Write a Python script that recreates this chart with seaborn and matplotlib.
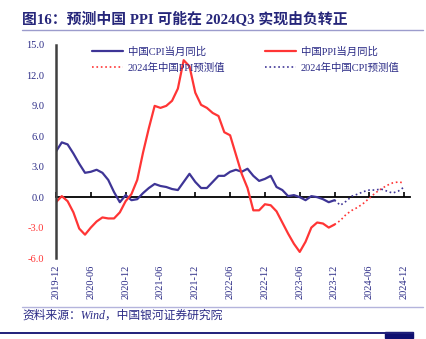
import numpy as np
import pandas as pd
import matplotlib
matplotlib.use("Agg")
import matplotlib.pyplot as plt
from matplotlib.lines import Line2D
from matplotlib.patches import Rectangle
import seaborn as sns

# ---------------- data ----------------
# monthly, 2019-12 .. 2023-12 (actual)
cpi_actual = [4.5, 5.4, 5.2, 4.3, 3.3, 2.4, 2.5, 2.7, 2.4, 1.7, 0.5, -0.5, 0.2,
              -0.3, -0.2, 0.4, 0.9, 1.3, 1.1, 1.0, 0.8, 0.7, 1.5, 2.3, 1.5,
              0.9, 0.9, 1.5, 2.1, 2.1, 2.5, 2.7, 2.5, 2.8, 2.1, 1.6, 1.8,
              2.1, 1.0, 0.7, 0.1, 0.2, 0.0, -0.3, 0.1, 0.0, -0.2, -0.5, -0.3]
ppi_actual = [-0.5, 0.1, -0.4, -1.5, -3.1, -3.7, -3.0, -2.4, -2.0, -2.1, -2.1, -1.5, -0.4,
              0.3, 1.7, 4.4, 6.8, 9.0, 8.8, 9.0, 9.5, 10.7, 13.5, 12.9, 10.3,
              9.1, 8.8, 8.3, 8.0, 6.4, 6.1, 4.2, 2.3, 0.9, -1.3, -1.3, -0.7,
              -0.8, -1.4, -2.5, -3.6, -4.6, -5.4, -4.4, -3.0, -2.5, -2.6, -3.0, -2.7]
# monthly, 2023-12 .. 2024-12 (forecast)
cpi_forecast = [-0.3, -0.8, -0.4, 0.1, 0.3, 0.55, 0.7, 0.7, 0.8, 0.6, 0.4, 0.6, 1.0]
ppi_forecast = [-2.7, -2.3, -1.7, -1.3, -1.0, -0.6, -0.1, 0.4, 0.8, 1.15, 1.4, 1.5, 1.4]

tick_labels = ["2019-12", "2020-06", "2020-12", "2021-06", "2021-12", "2022-06",
               "2022-12", "2023-06", "2023-12", "2024-06", "2024-12"]
series_names = ["中国CPI当月同比", "中国PPI当月同比", "2024年中国PPI预测值", "2024年中国CPI预测值"]
title = "图16：预测中国 PPI 可能在 2024Q3 实现由负转正"
source = "资料来源：Wind，中国银河证券研究院"

# ---------------- style ----------------
sns.set_style("white")
FONTS = ["Liberation Serif", "Noto Sans CJK SC", "DejaVu Sans"]
plt.rcParams["font.family"] = FONTS

BLUE_TXT = "#2b2b86"
CPI_C = "#3e3596"
PPI_C = "#ff3535"

W, H = 427, 339
fig = plt.figure(figsize=(W / 100, H / 100), dpi=100)
ax = fig.add_axes([56 / W, 1 - 258 / H, (410 - 56) / W, (258 - 45) / H])

n_act = len(cpi_actual)
x_act = np.arange(n_act)
x_fc = np.arange(n_act - 1, n_act - 1 + len(cpi_forecast))

df_act = pd.DataFrame({"x": x_act, "cpi": cpi_actual, "ppi": ppi_actual})
df_fc = pd.DataFrame({"x": x_fc, "cpi": cpi_forecast, "ppi": ppi_forecast})

sns.lineplot(data=df_act, x="x", y="cpi", ax=ax, color=CPI_C, lw=1.6, label=series_names[0])
sns.lineplot(data=df_act, x="x", y="ppi", ax=ax, color=PPI_C, lw=1.6, label=series_names[1])
sns.lineplot(data=df_fc, x="x", y="ppi", ax=ax, color=PPI_C, lw=1.2, ls=":", label=series_names[2])
sns.lineplot(data=df_fc, x="x", y="cpi", ax=ax, color=CPI_C, lw=1.2, ls=":", label=series_names[3])

ax.set_xlim(0, 61)
ax.set_ylim(-6, 15)
ax.set_xlabel("")
ax.set_ylabel("")

# y axis
yt = np.arange(-6, 16, 3)
ax.set_yticks(yt)
ax.set_yticklabels([f"{v:.1f}" for v in yt], fontsize=7.5)
for lab, v in zip(ax.get_yticklabels(), yt):
    lab.set_color(PPI_C if v < 0 else BLUE_TXT)
ax.tick_params(axis="y", direction="in", length=3, width=1.2, color="#404040", pad=8.5)

# x axis labels at bottom
xt = np.arange(0, 61, 6)
ax.set_xticks(xt)
ax.set_xticklabels(tick_labels, rotation=90, fontsize=7.5, color=BLUE_TXT)
ax.tick_params(axis="x", length=0, pad=5)

for s in ["top", "right", "bottom"]:
    ax.spines[s].set_visible(False)
ax.spines["left"].set_color("#404040")
ax.spines["left"].set_linewidth(1.8)

# zero line with upward ticks
sec = ax.secondary_xaxis(6 / 21)
sec.set_xticks(xt)
sec.tick_params(direction="in", length=3.5, width=1.2, color="black", labelbottom=False)
sec.spines["bottom"].set_color("black")
sec.spines["bottom"].set_linewidth(1.3)

# legend
h, l = ax.get_legend_handles_labels()
order = [0, 2, 1, 3]
leg = ax.legend([h[i] for i in order], [l[i] for i in order], ncol=2, frameon=False,
                loc="upper left", bbox_to_anchor=(0.075, 1.035), fontsize=7.5,
                handlelength=3.0, handletextpad=0.45, columnspacing=3.8, labelspacing=0.55)
for t in leg.get_texts():
    t.set_color(BLUE_TXT)

# title and decorations
fig.text(22 / W, 1 - 19.5 / H, title, fontsize=10.7, fontweight="bold", color="#26267a",
         va="center", ha="left")
fig.add_artist(Line2D([22 / W, 423 / W], [1 - 29.5 / H] * 2, color="#9c9ccc", lw=1.0))
fig.add_artist(Line2D([22 / W, 423 / W], [1 - 307 / H] * 2, color="#b4b4dc", lw=1.0))
fig.text(22 / W, 1 - 315.5 / H, source, fontsize=8.5, style="italic", color="#2b2b86",
         va="center", ha="left")
fig.add_artist(Line2D([0, 413 / W], [1 - 333 / H] * 2, color="#1f1f7a", lw=1.4))
fig.add_artist(Rectangle((385 / W, 1 - 338 / H), 28 / W, 6.5 / H, color="#0f0f70",
                         transform=fig.transFigure))

fig.savefig("out.png", dpi=100)
